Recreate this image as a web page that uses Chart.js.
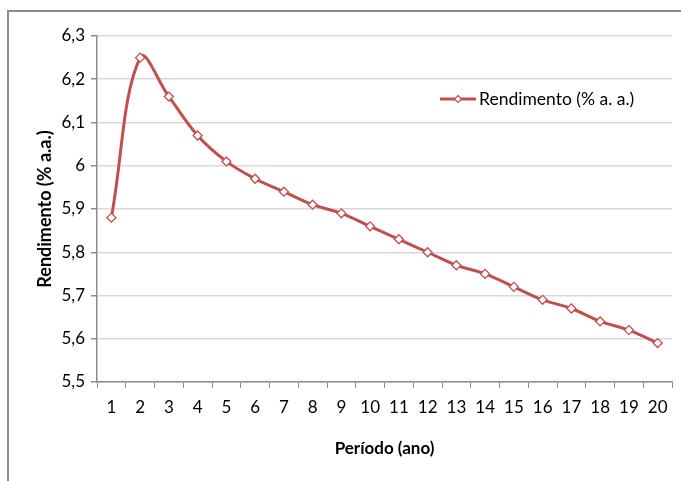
<!DOCTYPE html>
<html>
<head>
<meta charset="utf-8">
<script src="https://cdn.jsdelivr.net/npm/chart.js@4.4.0/dist/chart.umd.min.js"></script>
<style>
  html, body { margin: 0; padding: 0; background: #fff; }
  #wrap { position: relative; width: 681px; height: 481px; overflow: hidden; }
  #frame { position: absolute; left: 7px; top: 10px; width: 700px; height: 500px;
           border-top: 2px solid #8c8c8c; border-left: 2px solid #8c8c8c; }
  canvas { position: absolute; left: 0; top: 0; }
</style>
</head>
<body>
<div id="wrap">
  <div id="frame"></div>
  <canvas id="chart" width="681" height="481"></canvas>
</div>
<script>
// Data
const periods = ['1', '2', '3', '4', '5', '6', '7', '8', '9', '10',
                 '11', '12', '13', '14', '15', '16', '17', '18', '19', '20'];
const rendimento = [5.88, 6.25, 6.16, 6.07, 6.01, 5.97, 5.94, 5.91, 5.89, 5.86,
                    5.83, 5.80, 5.77, 5.75, 5.72, 5.69, 5.67, 5.64, 5.62, 5.59];
const seriesLabel = 'Rendimento (% a. a.)';

const FONT = 'Lato, "Open Sans", sans-serif';
const RED = '#c0504d';

// legend drawn inside the plot area, like the spreadsheet chart
const insideLegend = {
  id: 'insideLegend',
  afterDraw(chart) {
    const ctx = chart.ctx;
    const area = chart.chartArea;
    const x = area.left + 343, y = area.top + 63;
    ctx.save();
    ctx.strokeStyle = RED;
    ctx.lineWidth = 3;
    ctx.beginPath();
    ctx.moveTo(x, y);
    ctx.lineTo(x + 36, y);
    ctx.stroke();
    ctx.lineWidth = 1.2;
    ctx.fillStyle = '#fff';
    ctx.beginPath();
    ctx.moveTo(x + 18, y - 3.5);
    ctx.lineTo(x + 21.5, y);
    ctx.lineTo(x + 18, y + 3.5);
    ctx.lineTo(x + 14.5, y);
    ctx.closePath();
    ctx.fill();
    ctx.stroke();
    ctx.fillStyle = '#000';
    ctx.font = '17.5px ' + FONT;
    ctx.textBaseline = 'middle';
    ctx.fillText(seriesLabel, x + 39, y);
    ctx.restore();
  }
};

new Chart(document.getElementById('chart'), {
  type: 'line',
  data: {
    labels: periods,
    datasets: [{
      label: seriesLabel,
      data: rendimento,
      borderColor: RED,
      borderWidth: 3,
      tension: 0.4,
      pointStyle: 'rectRot',
      pointRadius: 4.5,
      pointBorderWidth: 1.3,
      pointBackgroundColor: '#fff',
      pointBorderColor: RED
    }]
  },
  options: {
    responsive: false,
    animation: false,
    layout: { padding: { left: 34, top: 36, right: 9, bottom: 0 } },
    plugins: { legend: { display: false }, tooltip: { enabled: false } },
    scales: {
      x: {
        offset: true,
        afterFit: s => { s.height = 99; },
        grid: { offset: true, drawOnChartArea: false, tickLength: 6, tickColor: '#8c8c8c' },
        border: { color: '#8c8c8c', width: 1.5 },
        ticks: { color: '#000', padding: 9, maxRotation: 0, font: { family: FONT, size: 17 } },
        title: { display: true, text: 'Período (ano)', color: '#000', padding: { top: 8, bottom: 22 },
                 font: { family: FONT, size: 17, weight: 'bold' } }
      },
      y: {
        min: 5.5,
        max: 6.3,
        afterFit: s => { s.width = 63; },
        grid: { color: '#d9d9d9', lineWidth: 1.5, tickLength: 6, tickColor: '#8c8c8c' },
        border: { color: '#8c8c8c', width: 1.5 },
        ticks: {
          stepSize: 0.1,
          color: '#000',
          padding: 6,
          font: { family: FONT, size: 17 },
          callback: v => String(Math.round(v * 10) / 10).replace('.', ',')
        },
        title: { display: true, text: 'Rendimento (% a.a.)', color: '#000', padding: { top: 0, bottom: 0 },
                 font: { family: FONT, size: 18, weight: 'bold' } }
      }
    }
  },
  plugins: [insideLegend]
});
</script>
</body>
</html>
